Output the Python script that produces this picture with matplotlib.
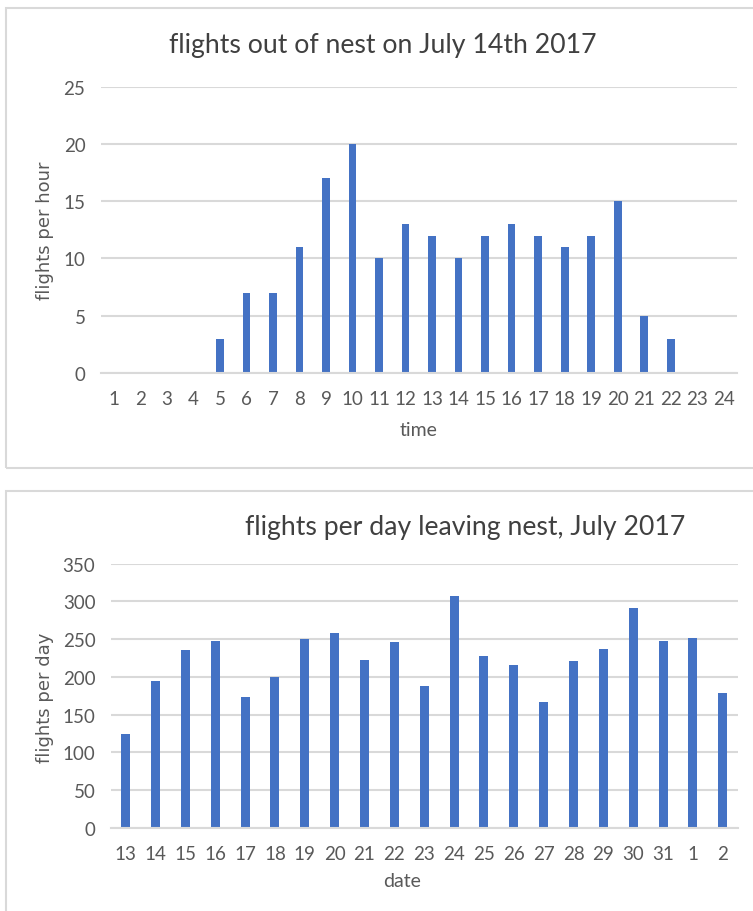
import matplotlib
matplotlib.use("Agg")
import matplotlib.pyplot as plt
from matplotlib.patches import Rectangle

# ---- data ----
hours = [str(h) for h in range(1, 25)]
flights_per_hour = [0, 0, 0, 0, 3, 7, 7, 11, 17, 20, 10, 13, 12, 10, 12, 13, 12, 11, 12, 15, 5, 3, 0, 0]

dates = ["13", "14", "15", "16", "17", "18", "19", "20", "21", "22", "23", "24",
         "25", "26", "27", "28", "29", "30", "31", "1", "2"]
flights_per_day = [125, 195, 235, 248, 173, 200, 250, 258, 222, 246, 188, 307,
                   227, 216, 167, 221, 237, 291, 248, 252, 178]

top_yticks = [0, 5, 10, 15, 20, 25]
bot_yticks = [0, 50, 100, 150, 200, 250, 300, 350]

# ---- style ----
W, H = 753, 912
BAR = "#4472C4"
GRID = "#D9D9D9"
TXT = "#595959"
TITLE = "#404040"
FONT = ["Lato", "DejaVu Sans"]
plt.rcParams["font.family"] = FONT

fig = plt.figure(figsize=(W / 100, H / 100), dpi=100)

def fx(px):
    return px / W

def fy(py):
    return 1 - py / H

# chart boxes
fig.patches.append(Rectangle((fx(5.5), fy(468.5)), fx(760 - 5.5), fy(9) - fy(468.5),
                             transform=fig.transFigure, fill=False, edgecolor=GRID, linewidth=1.5))
fig.patches.append(Rectangle((fx(5.5), fy(930)), fx(760 - 5.5), fy(492) - fy(930),
                             transform=fig.transFigure, fill=False, edgecolor=GRID, linewidth=1.5))


def style_axes(ax, ymax, yticks):
    ax.set_ylim(0, ymax)
    ax.set_yticks(yticks)
    ax.grid(axis="y", color=GRID, linewidth=1.5)
    ax.set_axisbelow(True)
    for s in ["top", "right", "left"]:
        ax.spines[s].set_visible(False)
    ax.spines["bottom"].set_color(GRID)
    ax.spines["bottom"].set_linewidth(1.5)
    ax.tick_params(axis="both", length=0, colors=TXT, labelsize=13.5)
    ax.tick_params(axis="x", pad=12)
    ax.tick_params(axis="y", pad=11)


# ---- top chart ----
ax1 = fig.add_axes([fx(100.7), fy(374), fx(737) - fx(100.7), fy(87.7) - fy(374)])
x1 = list(range(len(hours)))
ax1.bar(x1, flights_per_hour, width=0.29, color=BAR)
ax1.set_xticks(x1)
ax1.set_xticklabels(hours)
ax1.set_xlim(-0.5, len(hours) - 0.5)
style_axes(ax1, 25, top_yticks)

fig.text(fx(383), fy(45), "flights out of nest on July 14th 2017", ha="center", va="center",
         fontsize=19.2, color=TITLE)
fig.text(fx(418.5), fy(430), "time", ha="center", va="center", fontsize=14, color=TXT)
fig.text(fx(45), fy(231), "flights per hour", ha="center", va="center", rotation=90,
         fontsize=13, color=TXT, family=["DejaVu Sans"])

# ---- bottom chart ----
ax2 = fig.add_axes([fx(110.7), fy(829), fx(737.7) - fx(110.7), fy(564.5) - fy(829)])
x2 = list(range(len(dates)))
ax2.bar(x2, flights_per_day, width=0.30, color=BAR)
ax2.set_xticks(x2)
ax2.set_xticklabels(dates)
ax2.set_xlim(-0.5, len(dates) - 0.5)
style_axes(ax2, 350, bot_yticks)

fig.text(fx(465), fy(527), "flights per day leaving nest, July 2017", ha="center", va="center",
         fontsize=19.2, color=TITLE)
fig.text(fx(402), fy(882), "date", ha="center", va="center", fontsize=14, color=TXT)
fig.text(fx(45), fy(698), "flights per day", ha="center", va="center", rotation=90,
         fontsize=13, color=TXT, family=["DejaVu Sans"])

fig.savefig("out.png", dpi=100)
